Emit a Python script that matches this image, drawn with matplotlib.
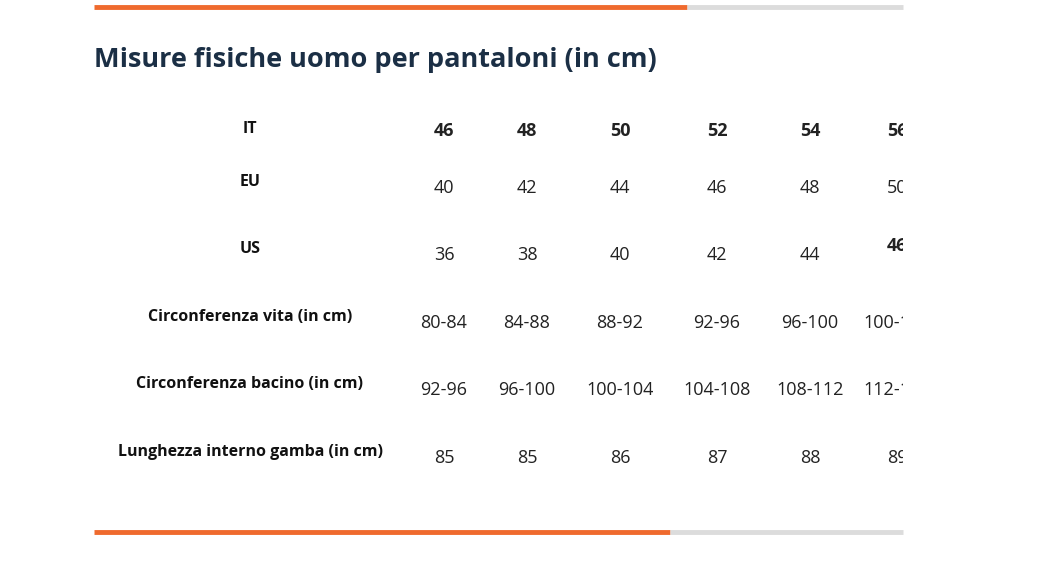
import matplotlib.pyplot as plt
from matplotlib.patches import Rectangle

title = "Misure fisiche uomo per pantaloni (in cm)"
row_labels = ["IT", "EU", "US", "Circonferenza vita (in cm)",
              "Circonferenza bacino (in cm)", "Lunghezza interno gamba (in cm)"]
it_sizes = ["46", "48", "50", "52", "54", "56"]
eu_sizes = ["40", "42", "44", "46", "48", "50"]
us_sizes = ["36", "38", "40", "42", "44", "46"]
vita = ["80-84", "84-88", "88-92", "92-96", "96-100", "100-104"]
bacino = ["92-96", "96-100", "100-104", "104-108", "108-112", "112-116"]
gamba = ["85", "85", "86", "87", "88", "89"]
rows = [it_sizes, eu_sizes, us_sizes, vita, bacino, gamba]

row_y = [131, 188, 255, 323, 390, 458]
col_x = [444, 527, 620, 717, 810, 897]
navy = "#1b2f45"
orange = "#ef6a2e"
grey = "#dcdcdc"
font = "Open Sans"

fig = plt.figure(figsize=(10.44, 5.70), dpi=100)
ax = fig.add_axes([0, 0, 1, 1])
ax.set_xlim(0, 1044)
ax.set_ylim(570, 0)
ax.axis("off")

# progress bars top and bottom
ax.plot([94, 687], [7, 7], color=orange, lw=3.5, solid_capstyle="butt")
ax.plot([687, 903], [7, 7], color=grey, lw=3.5, solid_capstyle="butt")
ax.plot([94, 670], [532, 532], color=orange, lw=3.5, solid_capstyle="butt")
ax.plot([670, 903], [532, 532], color=grey, lw=3.5, solid_capstyle="butt")

ax.text(94, 60, title, fontsize=19.5, fontweight="bold", color=navy,
        ha="left", va="center", family=font)

clip = Rectangle((0, 0), 903, 570, transform=ax.transData, visible=False)
ax.add_patch(clip)

for i, (lab, vals) in enumerate(zip(row_labels, rows)):
    y = row_y[i]
    ax.text(250, y - 6 if i > 0 else y - 2, lab, fontsize=11.5 if i > 2 else 11.5,
            fontweight="bold", color="#111111", ha="center", va="center", family=font)
    for j, v in enumerate(vals):
        bold = i == 0 or (i == 2 and j == 5)
        yy = y - 9 if (i == 2 and j == 5) else y
        t = ax.text(col_x[j], yy, v, fontsize=13 if bold else 13,
                    fontweight="bold" if bold else "normal", color="#222222",
                    ha="center", va="center", family=font, clip_on=True)
        t.set_clip_path(clip)

fig.savefig("out.png", dpi=100)
